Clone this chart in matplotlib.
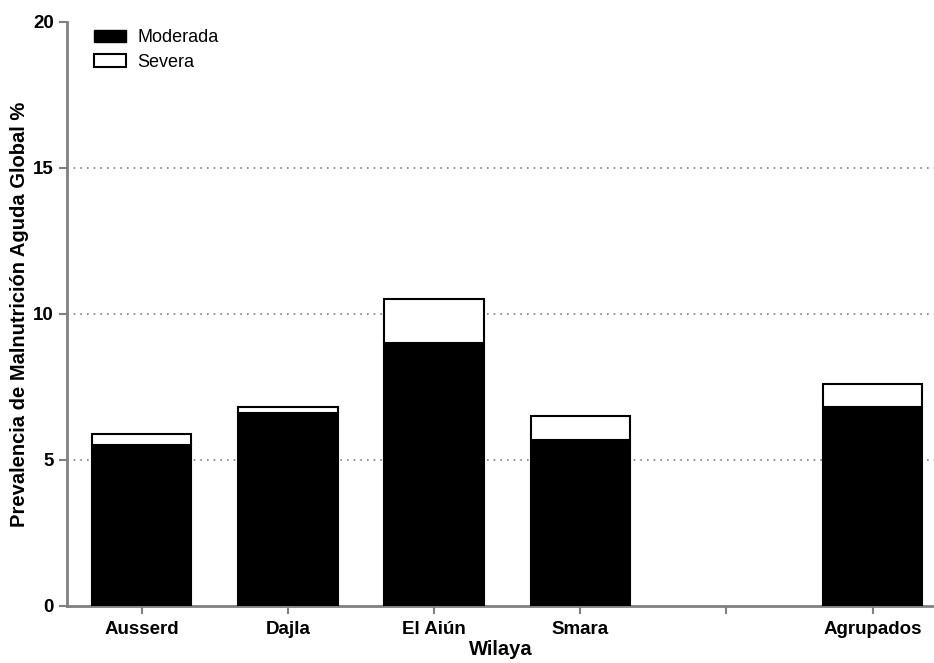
import matplotlib
matplotlib.use('Agg')
import matplotlib.pyplot as plt
from matplotlib.patches import Patch

plt.rcParams['font.family'] = ['Liberation Sans', 'DejaVu Sans']

nan = float('nan')

# --- data ---
wilayas = ['Ausserd', 'Dajla', 'El Aiún', 'Smara', '', 'Agrupados']
moderada = [5.5, 6.6, 9.0, 5.7, nan, 6.8]
severa = [0.4, 0.2, 1.5, 0.8, nan, 0.8]
y_ticks = [0, 5, 10, 15, 20]

# --- figura ---
fig = plt.figure(figsize=(9.34, 6.63), dpi=100)
ax = fig.add_axes([0.072, 0.086, 0.928, 0.881])

pos = list(range(len(wilayas)))
ax.bar(pos, moderada, width=0.68, color='black', edgecolor='black', linewidth=1.5, zorder=3)
ax.bar(pos, severa, width=0.68, bottom=moderada, color='white', edgecolor='black',
       linewidth=1.5, zorder=3)

ax.set_ylim(0, 20)
ax.set_xlim(-0.51, 5.42)
ax.set_yticks(y_ticks)
ax.set_xticks(pos)
ax.set_xticklabels(wilayas, fontweight='bold', fontsize=13.5)
ax.set_yticklabels([str(t) for t in y_ticks], fontweight='bold', fontsize=13.5)

for g in [5, 10, 15]:
    ax.axhline(g, color='#808080', linestyle=(0, (1, 3)), linewidth=1.2, zorder=1)

for s in ['top', 'right']:
    ax.spines[s].set_visible(False)
for s in ['left', 'bottom']:
    ax.spines[s].set_color('#808080')
    ax.spines[s].set_linewidth(2)
ax.tick_params(axis='both', color='#808080', width=1.5, length=6)
ax.tick_params(axis='x', pad=5)

ax.set_xlabel('Wilaya', fontweight='bold', fontsize=14.5, labelpad=1)
ax.set_ylabel('Prevalencia de Malnutrición Aguda Global %', fontweight='bold', fontsize=14.5,
              labelpad=3)

handles = [Patch(facecolor='black', edgecolor='black', label='Moderada'),
           Patch(facecolor='white', edgecolor='black', linewidth=1.5, label='Severa')]
ax.legend(handles=handles, loc='upper left', bbox_to_anchor=(0.012, 1.015), frameon=False,
          fontsize=13, handlelength=1.8, handleheight=0.7, labelspacing=0.4,
          handletextpad=0.6)

fig.savefig('out.png', dpi=100)
